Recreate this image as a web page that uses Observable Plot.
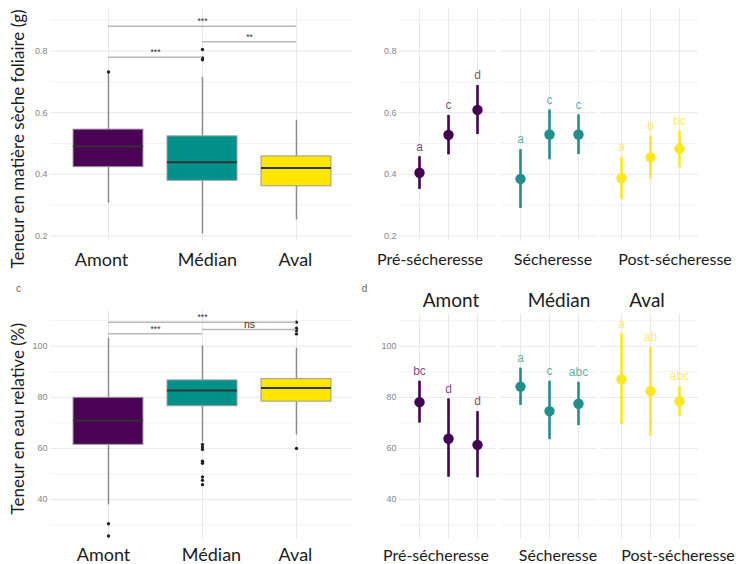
<!DOCTYPE html>
<html><head><meta charset="utf-8">
<script src="https://cdn.jsdelivr.net/npm/d3@7"></script>
<script src="https://cdn.jsdelivr.net/npm/@observablehq/plot@0.6"></script>
<style>
body{margin:0;background:#fff;}
#fig{position:relative;width:736px;height:564px;overflow:hidden;background:#fff;font-family:Lato,sans-serif;}
</style></head><body><div id="fig"></div>
<script>
// ---------- categories ----------
const sites = ["Amont", "Médian", "Aval"];
const periods = ["Pré-sécheresse", "Sécheresse", "Post-sécheresse"];

// ---------- panel a : teneur en matière sèche foliaire (boxplots) ----------
const msfLow  = [0.306, 0.206, 0.252];
const msfQ1   = [0.423, 0.379, 0.361];
const msfMed  = [0.490, 0.439, 0.420];
const msfQ3   = [0.545, 0.523, 0.458];
const msfHigh = [0.725, 0.715, 0.575];
const msfOutliers = [[0.732], [0.805, 0.778, 0.772], []];
const msfPairs  = [[0, 1], [1, 2], [0, 2]];
const msfPairY  = [0.780, 0.830, 0.881];
const msfPairLab = ["***", "**", "***"];

// ---------- panel b : moyennes matière sèche ----------
const msfMean = [[0.405, 0.528, 0.609], [0.385, 0.529, 0.529], [0.387, 0.455, 0.483]];
const msfLo   = [[0.351, 0.463, 0.529], [0.289, 0.447, 0.464], [0.318, 0.385, 0.421]];
const msfHi   = [[0.457, 0.591, 0.688], [0.480, 0.609, 0.593], [0.455, 0.524, 0.540]];
const msfLetters = [["a", "c", "d"], ["a", "c", "c"], ["a", "b", "bc"]];

// ---------- panel c : teneur en eau relative (boxplots) ----------
const rwcLow  = [37.9, 62.5, 65.3];
const rwcQ1   = [61.4, 76.5, 78.3];
const rwcMed  = [70.9, 82.7, 83.6];
const rwcQ3   = [79.8, 86.6, 87.1];
const rwcHigh = [103.1, 100.1, 99.2];
const rwcOutliers = [[30.5, 25.7], [61.5, 60.5, 59.6, 55.0, 54.2, 48.8, 47.5, 45.8], [60.0, 104.8, 106.1, 107.0, 109.4]];
const rwcPairs  = [[0, 1], [1, 2], [0, 2]];
const rwcPairY  = [104.9, 106.5, 109.4];
const rwcPairLab = ["***", "ns", "***"];

// ---------- panel d : moyennes teneur en eau ----------
const rwcMean = [[78.1, 63.8, 61.4], [84.2, 74.6, 77.5], [87.0, 82.4, 78.5]];
const rwcLo   = [[69.9, 48.7, 48.5], [76.8, 63.4, 68.9], [69.4, 64.8, 72.5]];
const rwcHi   = [[86.3, 79.4, 74.4], [91.4, 86.3, 85.9], [104.9, 99.6, 84.2]];
const rwcLetters = [["bc", "d", "d"], ["a", "c", "abc"], ["a", "ab", "abc"]];

// ---------- tick values ----------
const msfTicks = [0.2, 0.4, 0.6, 0.8];
const msfMinor = [0.3, 0.5, 0.7, 0.9];
const rwcTicks = [40, 60, 80, 100];
const rwcMinor = [30, 50, 70, 90, 110];

// ---------- styles ----------
const boxColors = ["#4b0156", "#00928a", "#fee600"];
const pointColors = ["#440154", "#21908c", "#fde725"];
const gridMajor = "#e8e8e8", gridMinor = "#f3f3f3";
const ink = "#1c1c1c";

const fig = document.getElementById("fig");
function place(el, left, top) {
  el.style.position = "absolute";
  el.style.left = left + "px";
  el.style.top = top + "px";
  el.style.background = "transparent";
  el.style.overflow = "visible";
  fig.appendChild(el);
}

function boxPanel(o) {
  const boxes = sites.map((s, i) => ({i, site: s, lo: o.low[i], q1: o.q1[i], med: o.med[i], q3: o.q3[i], hi: o.high[i]}));
  const outs = o.outliers.flatMap((vals, i) => vals.map(v => ({i, v})));
  const br = o.pairs.map((p, k) => ({a: p[0], b: p[1], y: o.pairY[k], label: o.pairLab[k]}));
  const half = 0.372;
  const labels = sites.map((s, i) => ({i, s}));
  return Plot.plot({
    width: 360, height: o.height,
    marginLeft: 50, marginRight: 8, marginTop: o.marginTop, marginBottom: o.marginBottom,
    style: {fontFamily: "Lato", background: "transparent"},
    x: {type: "linear", domain: [-0.617, 2.596], axis: null},
    y: {domain: o.yDomain},
    color: {domain: sites, range: boxColors},
    marks: [
      Plot.gridY({ticks: o.minor, stroke: gridMinor, strokeOpacity: 1}),
      Plot.gridY({ticks: o.ticks, stroke: gridMajor, strokeOpacity: 1}),
      Plot.gridX({ticks: [0, 1, 2], stroke: gridMajor, strokeOpacity: 1}),
      Plot.axisY({ticks: o.ticks, tickSize: 0, tickPadding: 3, fontSize: 9, fill: "#858585", fontFamily: "Liberation Sans", tickFormat: o.fmt, label: null}),
      Plot.ruleX(boxes, {x: "i", y1: "lo", y2: "q1", stroke: "#8c8c8c", strokeWidth: 1.5}),
      Plot.ruleX(boxes, {x: "i", y1: "q3", y2: "hi", stroke: "#8c8c8c", strokeWidth: 1.5}),
      Plot.rect(boxes, {x1: d => d.i - half, x2: d => d.i + half, y1: "q1", y2: "q3", fill: "site", stroke: "#9a9a9a", strokeWidth: 1}),
      Plot.ruleY(boxes, {x1: d => d.i - half, x2: d => d.i + half, y: "med", stroke: "#333", strokeWidth: 2}),
      Plot.dot(outs, {x: "i", y: "v", r: 1.7, fill: "#222"}),
      Plot.ruleY(br, {x1: "a", x2: "b", y: "y", stroke: "#b8b8b8", strokeWidth: 1.5}),
      Plot.text(br, {x: d => (d.a + d.b) / 2, y: "y", text: "label", lineAnchor: "bottom", dy: -2, fontSize: d => d.label === "ns" ? 10.5 : 8.5, fill: "#333", fontFamily: "Liberation Sans"}),
      Plot.text([o.title], {text: d => d, frameAnchor: "left", textAnchor: "middle", lineAnchor: "middle", rotate: -90, dx: -32, dy: o.titleDy, fontSize: 17, fill: ink, fontFamily: "Lato"}),
      ...(o.letter ? [Plot.text([o.letter], {text: d => d, frameAnchor: "top-left", textAnchor: "middle", lineAnchor: "middle", dx: -32, dy: o.letterDy, fontSize: 10, fill: "#666", fontFamily: "Liberation Sans"})] : []),
      ...labels.map((l, i) => Plot.text([l], {x: "i", text: "s", frameAnchor: "bottom", lineAnchor: "middle", dy: o.labelDy, dx: o.labelDx[i], fontSize: 18, fill: ink, fontFamily: "Lato"}))
    ]
  });
}

function meanPanel(o) {
  const pts = sites.flatMap((s, si) => periods.map((p, pi) => ({site: s, period: p, mean: o.mean[si][pi], lo: o.lo[si][pi], hi: o.hi[si][pi], letter: o.letters[si][pi]})));
  const bottom = sites.map((s, i) => ({site: s, label: periods[i]}));
  const top = sites.map(s => ({site: s, label: s}));
  return Plot.plot({
    width: 376, height: o.height,
    marginLeft: 38, marginRight: 38, marginTop: o.marginTop, marginBottom: o.marginBottom,
    style: {fontFamily: "Lato", background: "transparent"},
    fx: {domain: sites, paddingInner: 0.04, paddingOuter: 0, axis: null, label: null},
    x: {type: "point", domain: periods, padding: 0.63, axis: null},
    y: {domain: o.yDomain},
    color: {domain: sites, range: pointColors},
    marks: [
      Plot.gridY({ticks: o.minor, stroke: gridMinor, strokeOpacity: 1}),
      Plot.gridY({ticks: o.ticks, stroke: gridMajor, strokeOpacity: 1}),
      Plot.gridX({stroke: gridMajor, strokeOpacity: 1}),
      Plot.axisY({ticks: o.ticks, tickSize: 0, tickPadding: 3, fontSize: 9, fill: "#858585", fontFamily: "Liberation Sans", tickFormat: o.fmt, label: null}),
      Plot.ruleX(pts, {fx: "site", x: "period", y1: "lo", y2: "hi", stroke: "site", strokeWidth: 2.6}),
      Plot.dot(pts, {fx: "site", x: "period", y: "mean", fill: "site", r: 5.2}),
      Plot.text(pts, {fx: "site", x: "period", y: "hi", text: "letter", dy: -10, fill: "site", fillOpacity: 0.72, fontSize: 12, fontFamily: "Liberation Sans"}),
      ...bottom.map((b, i) => Plot.text([b], {fx: "site", text: "label", frameAnchor: "bottom", lineAnchor: "middle", dy: o.bottomDy, dx: o.bottomDx[i], fontSize: 16, fill: ink, fontFamily: "Lato"})),
      ...(o.showTop ? top.map((b, i) => Plot.text([b], {fx: "site", text: "label", frameAnchor: "top", lineAnchor: "middle", dy: o.topDy, dx: o.topDx[i], fontSize: 19, fill: ink, fontFamily: "Lato"})) : []),
      ...(o.letter ? [Plot.text([{site: sites[0], t: o.letter}], {fx: "site", text: "t", frameAnchor: "top-left", textAnchor: "middle", lineAnchor: "middle", dx: -35, dy: o.letterDy, fontSize: 10, fill: "#666", fontFamily: "Liberation Sans"})] : [])
    ]
  });
}

const f1 = d3.format(".1f");
const f0 = d3.format("d");

place(boxPanel({
  low: msfLow, q1: msfQ1, med: msfMed, q3: msfQ3, high: msfHigh, outliers: msfOutliers,
  pairs: msfPairs, pairY: msfPairY, pairLab: msfPairLab,
  yDomain: [0.185, 0.935], ticks: msfTicks, minor: msfMinor, fmt: f1,
  height: 280, marginTop: 9, marginBottom: 40,
  title: "Teneur en matière sèche foliaire (g)", titleDy: 14,
  labelDy: 20, labelDx: [-7, 5, -1]
}), 0, 0);

place(meanPanel({
  mean: msfMean, lo: msfLo, hi: msfHi, letters: msfLetters,
  yDomain: [0.185, 0.935], ticks: msfTicks, minor: msfMinor, fmt: f1,
  height: 280, marginTop: 9, marginBottom: 40,
  bottomDy: 19, bottomDx: [-18, 4, 25], showTop: false
}), 360, 0);

place(boxPanel({
  low: rwcLow, q1: rwcQ1, med: rwcMed, q3: rwcQ3, high: rwcHigh, outliers: rwcOutliers,
  pairs: rwcPairs, pairY: rwcPairY, pairLab: rwcPairLab,
  yDomain: [24.5, 114], ticks: rwcTicks, minor: rwcMinor, fmt: f0,
  height: 284, marginTop: 29.9, marginBottom: 25.4,
  title: "Teneur en eau relative (%)", titleDy: -6,
  labelDy: 16.5, labelDx: [-5, 9, -1],
  letter: "c", letterDy: -22
}), 0, 280);

place(meanPanel({
  mean: rwcMean, lo: rwcLo, hi: rwcHi, letters: rwcLetters,
  yDomain: [24.5, 112.5], ticks: rwcTicks, minor: rwcMinor, fmt: f0,
  height: 284, marginTop: 33.8, marginBottom: 25.4,
  bottomDy: 16.5, bottomDx: [-12, 9, 28],
  showTop: true, topDy: -13, topDx: [3, 10, -3],
  letter: "d", letterDy: -26
}), 360, 280);
</script>
</body></html>
